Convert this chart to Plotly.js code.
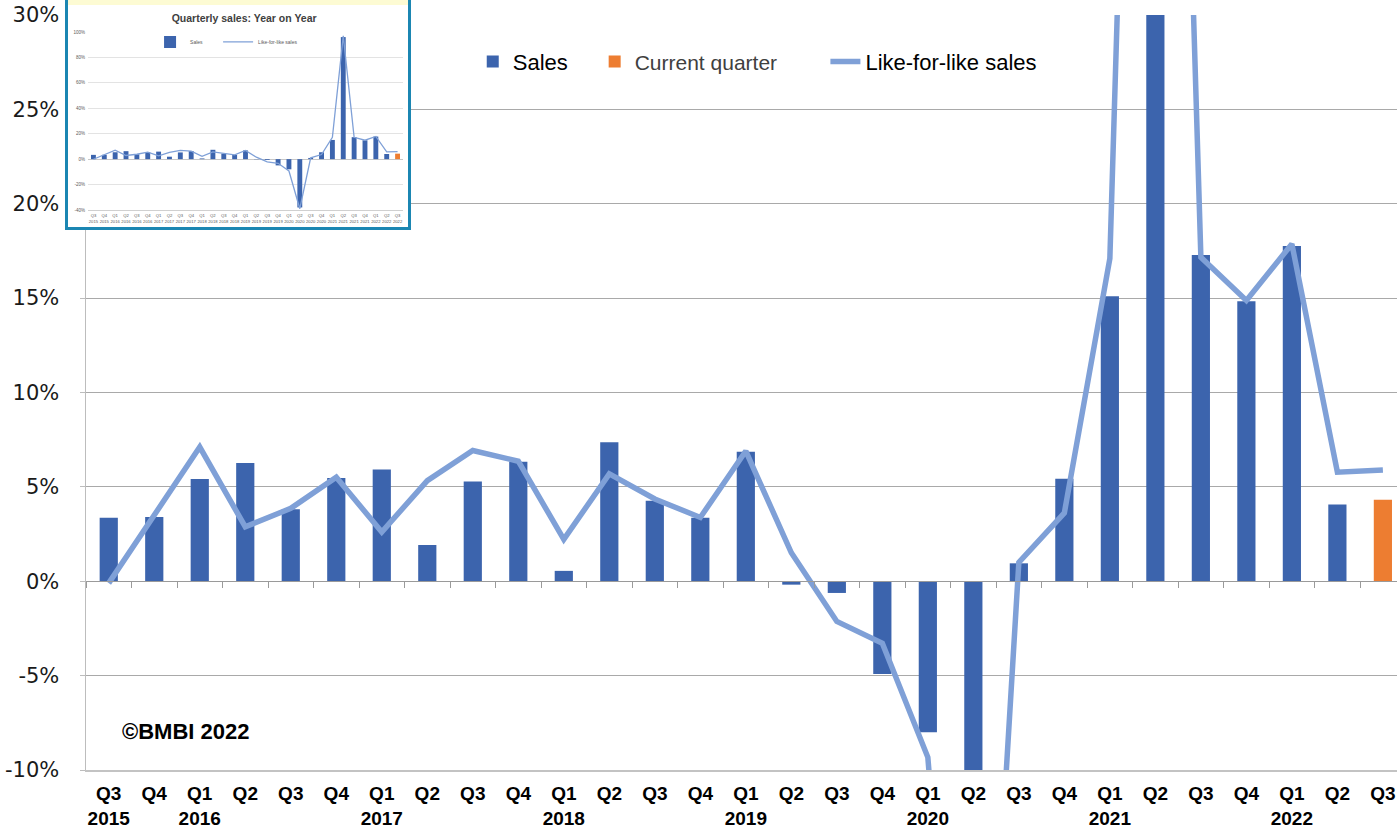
<!DOCTYPE html>
<html>
<head>
<meta charset="utf-8">
<script src="https://cdn.plot.ly/plotly-3.0.1.min.js"></script>
<style>
  html, body { margin: 0; padding: 0; overflow: hidden; background: #ffffff; }
  #chart { position: absolute; left: 0; top: 0; width: 1397px; height: 832px; }
  #inset { position: absolute; left: 65px; top: -3px; width: 346px; height: 233px; box-sizing: border-box;
           border: 3px solid #1b86b2; background: #ffffff; }
  #strip { position: absolute; left: 0; top: 0; width: 340px; height: 5px; background: #fdfbd3; }
  #insetPlot { position: absolute; left: 0; top: 0; width: 340px; height: 227px; }
</style>
</head>
<body>
<div id="chart"></div>
<div id="inset"><div id="strip"></div><div id="insetPlot"></div></div>
<script>
// ---- data ----
const categories = ['Q3 2015','Q4 2015','Q1 2016','Q2 2016','Q3 2016','Q4 2016','Q1 2017','Q2 2017','Q3 2017','Q4 2017',
  'Q1 2018','Q2 2018','Q3 2018','Q4 2018','Q1 2019','Q2 2019','Q3 2019','Q4 2019','Q1 2020','Q2 2020',
  'Q3 2020','Q4 2020','Q1 2021','Q2 2021','Q3 2021','Q4 2021','Q1 2022','Q2 2022','Q3 2022'];
const quarterLabels = ['Q3','Q4','Q1','Q2','Q3','Q4','Q1','Q2','Q3','Q4','Q1','Q2','Q3','Q4','Q1','Q2','Q3','Q4',
  'Q1','Q2','Q3','Q4','Q1','Q2','Q3','Q4','Q1','Q2','Q3'];
const yearLabels = ['2015','','2016','','','','2017','','','','2018','','','','2019','','','',
  '2020','','','','2021','','','','2022','',''];
const insetYearLabels = ['2015','2015','2016','2016','2016','2016','2017','2017','2017','2017','2018','2018','2018','2018',
  '2019','2019','2019','2019','2020','2020','2020','2020','2021','2021','2021','2021','2022','2022','2022'];
// Sales, % year on year (blue bars)
const sales = [3.36, 3.41, 5.42, 6.27, 3.82, 5.47, 5.92, 1.92, 5.28, 6.33,
  0.55, 7.36, 4.27, 3.36, 6.86, -0.18, -0.62, -4.92, -8.0, -38.0,
  0.95, 5.43, 15.1, 96.0, 17.28, 14.83, 17.76, 4.07, null];
// Current quarter (orange bar)
const currentQuarter = [null, null, null, null, null, null, null, null, null, null,
  null, null, null, null, null, null, null, null, null, null,
  null, null, null, null, null, null, null, null, 4.32];
// Like-for-like sales, %
const likeForLike = [-0.1, 3.45, 7.11, 2.88, 3.86, 5.51, 2.61, 5.33, 6.93, 6.36,
  2.22, 5.69, 4.36, 3.38, 6.9, 1.51, -2.13, -3.29, -9.33, -39.0,
  1.0, 3.62, 17.1, 97.0, 17.17, 14.88, 17.87, 5.78, 5.9];
const yTicks = [-10, -5, 0, 5, 10, 15, 20, 25, 30];
const yTickLabels = ['-10%', '-5%', '0%', '5%', '10%', '15%', '20%', '25%', '30%'];
const insetYTicks = [-40, -20, 0, 20, 40, 60, 80, 100];
const insetYTickLabels = ['-40%', '-20%', '0%', '20%', '40%', '60%', '80%', '100%'];

// ---- styles ----
const BLUE = '#3c64ad', ORANGE = '#ed7d31', LINE = '#7fa0d7';
const xTickText = quarterLabels.map((q, i) => yearLabels[i] ? q + '<br>' + yearLabels[i] : q);

const traces = [
  { type: 'bar', name: 'Sales', x: categories, y: sales, width: 0.4,
    marker: { color: BLUE }, legend: 'legend', hoverinfo: 'x+y' },
  { type: 'bar', name: 'Current quarter', x: categories, y: currentQuarter, width: 0.4,
    marker: { color: ORANGE }, legend: 'legend2', hoverinfo: 'x+y' },
  { type: 'scatter', mode: 'lines', name: 'Like-for-like sales', x: categories, y: likeForLike,
    xaxis: 'x2', yaxis: 'y',
    line: { color: LINE, width: 5.5 }, legend: 'legend3', hoverinfo: 'x+y' }
];

const legendBase = { orientation: 'h', yanchor: 'middle', xanchor: 'left', y: 0.938,
  bgcolor: 'rgba(0,0,0,0)', borderwidth: 0 };

const layout = {
  width: 1397, height: 832,
  margin: { l: 86, r: 0, t: 15, b: 62, pad: 0 },
  paper_bgcolor: '#ffffff', plot_bgcolor: '#ffffff',
  barmode: 'overlay',
  showlegend: true,
  xaxis: {
    type: 'category', range: [-0.5, 28.31], tickmode: 'array', tickvals: categories, ticktext: xTickText,
    tickangle: 0, showgrid: false, zeroline: false, showline: true, linecolor: '#c3c3c3', linewidth: 2,
    ticks: '', ticklabelstandoff: 5,
    tickfont: { family: 'Liberation Sans Narrow, Liberation Sans, Arial, sans-serif', size: 19, color: '#000000', weight: 'bold' }
  },
  xaxis2: {
    type: 'category', overlaying: 'x', matches: 'x', anchor: 'free', position: 0.25,
    tickson: 'boundaries', showticklabels: false, ticks: 'outside', ticklen: 6,
    tickcolor: '#9a9a9a', tickwidth: 1, showline: true, linecolor: '#9a9a9a', linewidth: 1,
    showgrid: false, zeroline: false
  },
  yaxis: {
    range: [-10, 30], tickmode: 'array', tickvals: yTicks, ticktext: yTickLabels,
    showgrid: true, gridcolor: '#a9a9a9', gridwidth: 1, zeroline: false,
    showline: true, linecolor: '#bdbdbd', linewidth: 1.5, ticks: 'outside', ticklen: 5, tickcolor: '#bdbdbd',
    ticklabelstandoff: 16,
    tickfont: { family: 'DejaVu Sans, Verdana, sans-serif', size: 21, color: '#1a1a1a' }
  },
  legend: Object.assign({}, legendBase, { x: 0.295,
    font: { family: 'Liberation Sans, Arial, sans-serif', size: 22, color: '#000000' } }),
  legend2: Object.assign({}, legendBase, { x: 0.388,
    font: { family: 'Liberation Sans, Arial, sans-serif', size: 21, color: '#404040' } }),
  legend3: Object.assign({}, legendBase, { x: 0.564,
    font: { family: 'Liberation Sans, Arial, sans-serif', size: 22, color: '#000000' } }),
  annotations: [
    { text: '<b>©BMBI 2022</b>', xref: 'paper', yref: 'y', x: 0.026, y: -7.95, xanchor: 'left', yanchor: 'middle',
      showarrow: false, font: { family: 'Liberation Sans, Arial, sans-serif', size: 22, color: '#000000' } }
  ]
};

Plotly.newPlot('chart', traces, layout, { staticPlot: true, displayModeBar: false });

// ---- inset (thumbnail of the full-range chart) ----
const insetTraces = [
  { type: 'bar', name: 'Sales', x: categories, y: sales, width: 0.45, marker: { color: BLUE }, legend: 'legend' },
  { type: 'bar', name: 'Current quarter', x: categories, y: currentQuarter, width: 0.45, marker: { color: ORANGE }, showlegend: false },
  { type: 'scatter', mode: 'lines', name: 'Like-for-like sales', x: categories, y: likeForLike,
    line: { color: LINE, width: 1.3 }, legend: 'legend2' }
];
const insetLegend = { orientation: 'h', yanchor: 'middle', xanchor: 'left', y: 0.944,
  bgcolor: 'rgba(0,0,0,0)', itemwidth: 30, font: { family: 'Liberation Sans, Arial, sans-serif', size: 5, color: '#595959' } };
const insetLayout = {
  width: 340, height: 227,
  margin: { l: 20, r: 5, t: 32, b: 17, pad: 0 },
  paper_bgcolor: 'rgba(0,0,0,0)', plot_bgcolor: 'rgba(0,0,0,0)',
  barmode: 'overlay',
  title: { text: '<b>Quarterly sales: Year on Year</b>', x: 0.518, xanchor: 'center', xref: 'container',
    y: 0.921, yanchor: 'middle', yref: 'container',
    font: { family: 'Liberation Sans, Arial, sans-serif', size: 10.5, color: '#404040' } },
  xaxis: { type: 'category', tickmode: 'array', tickvals: categories,
    ticktext: quarterLabels.map((q, i) => q + '<br>' + insetYearLabels[i]), tickangle: 0,
    showgrid: false, zeroline: false, showline: true, linecolor: '#d0d0d0', ticks: '', ticklabelstandoff: 1,
    tickfont: { family: 'Liberation Sans Narrow, Liberation Sans, sans-serif', size: 4.2, color: '#595959' } },
  yaxis: { range: [-40, 100], tickmode: 'array', tickvals: insetYTicks, ticktext: insetYTickLabels,
    showgrid: true, gridcolor: '#e3e3e3', zeroline: true, zerolinecolor: '#c8c8c8', zerolinewidth: 1,
    showline: false, ticks: '', ticklabelstandoff: 2,
    tickfont: { family: 'Liberation Sans, Arial, sans-serif', size: 4.5, color: '#595959' } },
  legend: Object.assign({}, insetLegend, { x: 0.197 }),
  legend2: Object.assign({}, insetLegend, { x: 0.413 })
};
Plotly.newPlot('insetPlot', insetTraces, insetLayout, { staticPlot: true, displayModeBar: false });
</script>
</body>
</html>
